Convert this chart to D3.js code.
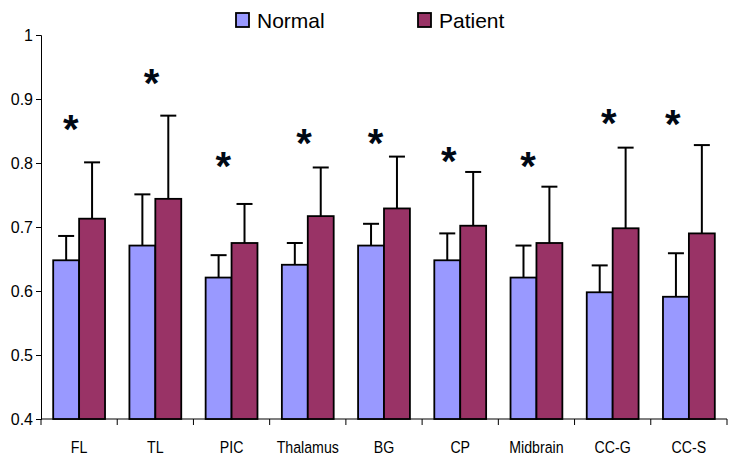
<!DOCTYPE html>
<html><head><meta charset="utf-8">
<script src="https://cdn.jsdelivr.net/npm/d3@7"></script>
<style>body{margin:0;background:#fff}svg{display:block}</style>
</head><body>
<script>
const categories = ["FL","TL","PIC","Thalamus","BG","CP","Midbrain","CC-G","CC-S"];
const seriesNames = ["Normal","Patient"];
const normal      = [0.648,0.671,0.621,0.641,0.671,0.648,0.621,0.598,0.591];
const normalErr   = [0.038,0.080,0.035,0.034,0.034,0.042,0.050,0.042,0.068];
const patient     = [0.713,0.744,0.675,0.717,0.729,0.702,0.675,0.698,0.690];
const patientErr  = [0.088,0.130,0.061,0.076,0.081,0.084,0.088,0.126,0.138];
const starValue   = [0.862,0.934,0.805,0.841,0.841,0.812,0.805,0.872,0.870];
const starShift   = [-0.11,-0.05,-0.11,-0.05,-0.11,-0.15,-0.11,-0.05,-0.21];
const yTicks      = [0.4,0.5,0.6,0.7,0.8,0.9,1];
const colors      = ["#9999FF","#993366"];

const W=729,H=457;
const svg=d3.select("body").append("svg").attr("width",W).attr("height",H);
const x=d3.scaleBand().domain(categories).range([41,727]).padding(0);
const xs=d3.scaleBand().domain(seriesNames).range([0.16*x.bandwidth(),0.84*x.bandwidth()]);
const y=d3.scaleLinear().domain([0.4,1]).range([419,35]);

// axes
const yAxis=svg.append("g").attr("transform","translate(41,0)")
  .call(d3.axisLeft(y).tickValues(yTicks).tickSize(5).tickPadding(3).tickFormat(d=>d===1?"1":d3.format(".1f")(d)));
yAxis.selectAll("text").attr("font-family","Liberation Sans, Arial, sans-serif").attr("font-size",16).attr("fill","#000");
yAxis.selectAll("line,path").attr("stroke","#000");

const xAxisG=svg.append("g").attr("transform","translate(0,419)");
xAxisG.append("line").attr("x1",41).attr("x2",727).attr("stroke","#000");
const bounds=categories.map(c=>x(c)).concat([x(categories[categories.length-1])+x.bandwidth()]);
xAxisG.selectAll("line.t").data(bounds).join("line").attr("class","t")
  .attr("x1",d=>d).attr("x2",d=>d).attr("y1",0).attr("y2",6).attr("stroke","#000");
xAxisG.selectAll("text").data(categories).join("text")
  .attr("transform",d=>`translate(${x(d)+x.bandwidth()/2},34) scale(0.86,1)`)
  .attr("text-anchor","middle").attr("font-family","Liberation Sans, Arial, sans-serif")
  .attr("font-size",16.5).attr("fill","#000").text(d=>d);

const rows=categories.map((c,i)=>({c,vals:[normal[i],patient[i]],errs:[normalErr[i],patientErr[i]]}));
const g=svg.selectAll("g.cat").data(rows).join("g").attr("class","cat").attr("transform",d=>`translate(${x(d.c)},0)`);
g.each(function(d){
  const sel=d3.select(this);
  seriesNames.forEach((s,j)=>{
    const cx=xs(s)+xs.bandwidth()/2;
    sel.append("line").attr("x1",cx).attr("x2",cx).attr("y1",y(d.vals[j])).attr("y2",y(d.vals[j]+d.errs[j]))
      .attr("stroke","#000").attr("stroke-width",2);
    sel.append("line").attr("x1",cx-8).attr("x2",cx+8).attr("y1",y(d.vals[j]+d.errs[j])).attr("y2",y(d.vals[j]+d.errs[j]))
      .attr("stroke","#000").attr("stroke-width",2);
    sel.append("rect").attr("x",xs(s)).attr("width",xs.bandwidth())
      .attr("y",y(d.vals[j])).attr("height",y(0.4)-y(d.vals[j]))
      .attr("fill",colors[j]).attr("stroke","#000").attr("stroke-width",1.8);
  });
});

// stars
svg.selectAll("text.star").data(categories).join("text").attr("class","star")
  .attr("x",(d,i)=>x(d)+x.bandwidth()*(0.5+starShift[i]))
  .attr("y",(d,i)=>y(starValue[i])+0.5*40)
  .attr("text-anchor","middle").attr("font-family","Liberation Sans, Arial, sans-serif")
  .attr("font-weight","bold").attr("font-size",40).attr("fill","#000814").text("*");

// legend
const leg=svg.append("g");
const legX=[236,418];
seriesNames.forEach((s,j)=>{
  leg.append("rect").attr("x",legX[j]).attr("y",13).attr("width",13).attr("height",14)
    .attr("fill",colors[j]).attr("stroke","#000").attr("stroke-width",1.8);
  leg.append("text").attr("x",legX[j]+21).attr("y",28).attr("font-family","Liberation Sans, Arial, sans-serif")
    .attr("font-size",21).attr("fill","#000").text(s);
});
</script>
</body></html>
